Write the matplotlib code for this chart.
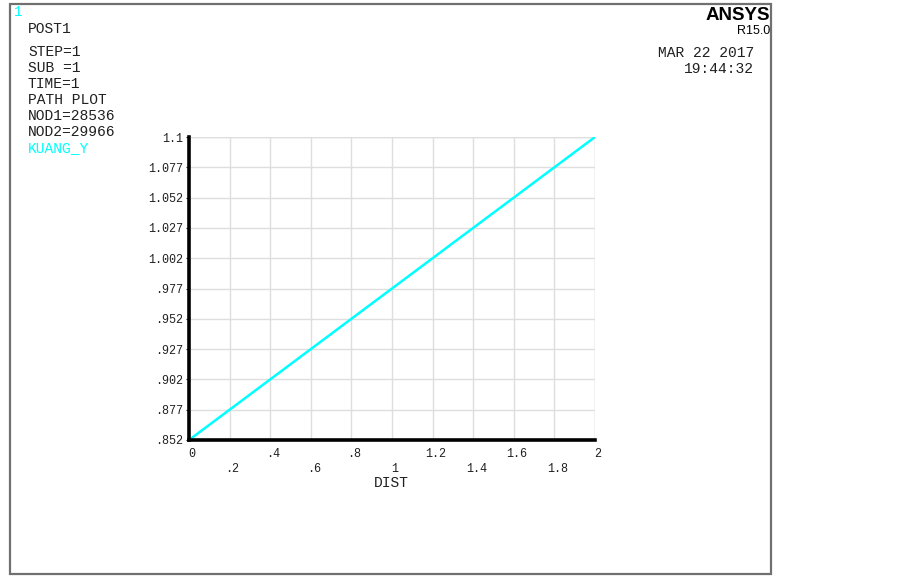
import matplotlib
matplotlib.use("Agg")
import matplotlib.pyplot as plt
from matplotlib.patches import Rectangle

# path data (DIST vs KUANG_Y)
dist = [0.0, 0.4, 0.8, 1.2, 1.6, 2.0]
kuang_y = [0.852, 0.9016, 0.9512, 1.0008, 1.0504, 1.1]

x_ticks = [0, 0.2, 0.4, 0.6, 0.8, 1.0, 1.2, 1.4, 1.6, 1.8, 2.0]
x_labels = ["0", ".2", ".4", ".6", ".8", "1", "1.2", "1.4", "1.6", "1.8", "2"]
y_labels = [".852", ".877", ".902", ".927", ".952", ".977",
            "1.002", "1.027", "1.052", "1.077", "1.1"]
y_min, y_max = 0.852, 1.1

info_lines = ["STEP=1", "SUB =1", "TIME=1", "PATH PLOT", "NOD1=28536", "NOD2=29966"]

W, H = 903, 577
mono = "Liberation Mono"
cyan = "#00ffff"


def fx(x):
    return x / W


def fy(y):
    return 1 - y / H


fig = plt.figure(figsize=(W / 100, H / 100), dpi=100)

# outer window frame
fig.patches.append(Rectangle((fx(10), fy(574)), fx(771) - fx(10), fy(4) - fy(574),
                             transform=fig.transFigure, fill=False,
                             edgecolor="#707070", linewidth=1.6))

ax = fig.add_axes([fx(189), fy(440), fx(595) - fx(189), fy(137) - fy(440)])
ax.plot(dist, kuang_y, color=cyan, linewidth=1.8, zorder=3)
ax.set_xlim(0, 2)
ax.set_ylim(y_min, y_max)

step = (y_max - y_min) / 10
y_ticks = [y_min + i * step for i in range(11)]
ax.set_yticks(y_ticks)
ax.set_yticklabels(y_labels, fontsize=8.5, family=mono, color="#202020")
ax.set_xticks(x_ticks)
ax.set_xticklabels([])
ax.tick_params(axis="y", length=2, pad=2, color="#202020")
ax.tick_params(axis="x", length=0)
ax.grid(True, color="#dedede", linewidth=1.0)
ax.axvline(2, color="#dedede", linewidth=1.0)
ax.axhline(y_max, color="#dedede", linewidth=1.0)
for s in ["top", "right"]:
    ax.spines[s].set_visible(False)
for s in ["left", "bottom"]:
    ax.spines[s].set_linewidth(2.6)
    ax.spines[s].set_color("black")
    ax.spines[s].set_zorder(4)

# staggered x tick labels
for i, (xv, lab) in enumerate(zip(x_ticks, x_labels)):
    off = 14 if i % 2 == 0 else 29
    ax.annotate(lab, xy=(xv, y_min), xycoords="data",
                xytext=(3, -off), textcoords="offset pixels",
                ha="center", va="center", fontsize=8.5, family=mono, color="#202020")
fig.text(fx(391), fy(483), "DIST", ha="center", va="center", fontsize=10.5,
         family=mono, color="#202020")

# header texts
fig.text(fx(14), fy(12), "1", ha="left", va="center", fontsize=10, family=mono, color=cyan)
fig.text(fx(28), fy(29), "POST1", ha="left", va="center", fontsize=10.5, family=mono, color="#202020")
for i, line in enumerate(info_lines):
    fig.text(fx(28), fy(52 + 16 * i), line, ha="left", va="center", fontsize=10.5,
             family=mono, color="#202020")
fig.text(fx(28), fy(148), "KUANG_Y", ha="left", va="center", fontsize=10.5, family=mono, color=cyan)

fig.text(fx(770), fy(16), "ANSYS", ha="right", va="center", fontsize=13.5,
         fontweight="bold", family="Liberation Sans", color="black")
fig.text(fx(770), fy(31), "R15.0", ha="right", va="center", fontsize=9,
         family="Liberation Sans", color="black")
fig.text(fx(754), fy(53), "MAR 22 2017", ha="right", va="center", fontsize=10.5,
         family=mono, color="#202020")
fig.text(fx(754), fy(69), "19:44:32", ha="right", va="center", fontsize=10.5,
         family=mono, color="#202020")

fig.savefig("out.png", dpi=100)
